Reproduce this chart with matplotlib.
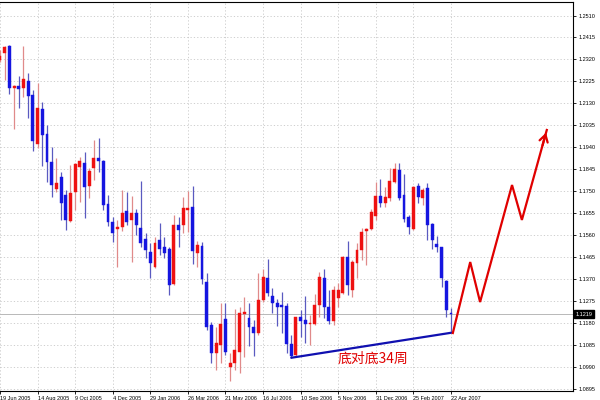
import matplotlib
matplotlib.use("Agg")
import matplotlib.pyplot as plt
import matplotlib.transforms as mtransforms
import numpy as np

# ---- weekly OHLC (bar index 0 = week of 19 Jun 2005) ----
opens = [1.2318, 1.2348, 1.2378, 1.2196, 1.2205, 1.2196, 1.2227, 1.2166, 1.1954, 1.2106,
         1.1998, 1.1877, 1.1760, 1.1812, 1.1734, 1.1622, 1.1747, 1.1855, 1.1872, 1.1773,
         1.1851, 1.1894, 1.1881, 1.1696, 1.1618, 1.1588, 1.1596, 1.1665, 1.1627, 1.1657,
         1.1592, 1.1544, 1.1488, 1.1424, 1.1540, 1.1510, 1.1501, 1.1350, 1.1605, 1.1605,
         1.1670, 1.1683, 1.1484, 1.1514, 1.1359, 1.1173, 1.1052, 1.1087, 1.1199, 1.0991,
         1.1009, 1.1056, 1.1220, 1.1203, 1.1164, 1.1138, 1.1281, 1.1376, 1.1298, 1.1268,
         1.1259, 1.1255, 1.1091, 1.1043, 1.1207, 1.1195, 1.1177, 1.1177, 1.1259, 1.1376,
         1.1251, 1.1190, 1.1290, 1.1311, 1.1467, 1.1324, 1.1441, 1.1497, 1.1579, 1.1588,
         1.1644, 1.1730, 1.1700, 1.1721, 1.1790, 1.1842, 1.1734, 1.1640, 1.1588, 1.1773,
         1.1721, 1.1764, 1.1609, 1.1523, 1.1510, 1.1363, 1.1225]
highs = [1.2361, 1.2378, 1.2382, 1.2209, 1.2248, 1.2378, 1.2261, 1.2188, 1.2218, 1.2136,
         1.2036, 1.1941, 1.1894, 1.1834, 1.1756, 1.1864, 1.1872, 1.1898, 1.1920, 1.1851,
         1.1972, 1.1980, 1.1885, 1.1734, 1.1640, 1.1627, 1.1756, 1.1747, 1.1730, 1.1674,
         1.1795, 1.1570, 1.1527, 1.1553, 1.1614, 1.1553, 1.1510, 1.1648, 1.1640, 1.1726,
         1.1752, 1.1773, 1.1536, 1.1531, 1.1398, 1.1186, 1.1164, 1.1268, 1.1268, 1.1052,
         1.1242, 1.1251, 1.1294, 1.1268, 1.1195, 1.1398, 1.1415, 1.1458, 1.1333, 1.1285,
         1.1316, 1.1268, 1.1130, 1.1207, 1.1238, 1.1298, 1.1216, 1.1307, 1.1402, 1.1415,
         1.1324, 1.1341, 1.1354, 1.1471, 1.1536, 1.1454, 1.1527, 1.1592, 1.1592, 1.1674,
         1.1790, 1.1804, 1.1769, 1.1851, 1.1872, 1.1872, 1.1825, 1.1648, 1.1773, 1.1786,
         1.1764, 1.1786, 1.1614, 1.1557, 1.1510, 1.1367, 1.1246]
lows = [1.2309, 1.2231, 1.2171, 1.2019, 1.2110, 1.2158, 1.2067, 1.1925, 1.1937, 1.1859,
        1.1790, 1.1726, 1.1747, 1.1627, 1.1583, 1.1618, 1.1670, 1.1704, 1.1635, 1.1721,
        1.1799, 1.1834, 1.1670, 1.1601, 1.1531, 1.1424, 1.1579, 1.1605, 1.1445, 1.1562,
        1.1510, 1.1462, 1.1376, 1.1419, 1.1475, 1.1462, 1.1303, 1.1346, 1.1510, 1.1570,
        1.1575, 1.1437, 1.1424, 1.1350, 1.1151, 1.1009, 1.0979, 1.1009, 1.1043, 1.0931,
        1.0979, 1.0966, 1.1035, 1.1082, 1.1039, 1.1130, 1.1272, 1.1298, 1.1225, 1.1169,
        1.1138, 1.1052, 1.1030, 1.1039, 1.1121, 1.1095, 1.1087, 1.1173, 1.1207, 1.1203,
        1.1177, 1.1173, 1.1251, 1.1307, 1.1303, 1.1294, 1.1376, 1.1454, 1.1432, 1.1583,
        1.1627, 1.1683, 1.1683, 1.1708, 1.1786, 1.1713, 1.1618, 1.1566, 1.1583, 1.1700,
        1.1691, 1.1540, 1.1501, 1.1488, 1.1337, 1.1207, 1.1138]
closes = [1.2335, 1.2374, 1.2196, 1.2205, 1.2192, 1.2235, 1.2162, 1.1967, 1.2110, 1.1993,
          1.1877, 1.1777, 1.1786, 1.1700, 1.1627, 1.1743, 1.1868, 1.1881, 1.1769, 1.1838,
          1.1894, 1.1881, 1.1691, 1.1618, 1.1570, 1.1596, 1.1657, 1.1618, 1.1657, 1.1605,
          1.1527, 1.1497, 1.1441, 1.1527, 1.1501, 1.1484, 1.1346, 1.1605, 1.1583, 1.1678,
          1.1678, 1.1493, 1.1519, 1.1372, 1.1164, 1.1052, 1.1095, 1.1177, 1.1056, 1.1009,
          1.1065, 1.1225, 1.1229, 1.1164, 1.1138, 1.1281, 1.1380, 1.1311, 1.1268, 1.1251,
          1.1251, 1.1091, 1.1039, 1.1207, 1.1190, 1.1177, 1.1182, 1.1259, 1.1380, 1.1251,
          1.1190, 1.1324, 1.1324, 1.1467, 1.1346, 1.1445, 1.1497, 1.1575, 1.1588, 1.1661,
          1.1730, 1.1700, 1.1726, 1.1795, 1.1847, 1.1721, 1.1631, 1.1596, 1.1769, 1.1726,
          1.1756, 1.1605, 1.1540, 1.1510, 1.1376, 1.1238, 1.1219]

date_labels = ["19 Jun 2005", "14 Aug 2005", "9 Oct 2005", "4 Dec 2005", "29 Jan 2006",
               "26 Mar 2006", "21 May 2006", "16 Jul 2006", "10 Sep 2006", "5 Nov 2006",
               "31 Dec 2006", "25 Feb 2007", "22 Apr 2007"]
date_label_bars = [0, 8, 16, 24, 32, 40, 48, 56, 64, 72, 80, 88, 96]

price_ticks = [1.2510, 1.2415, 1.2320, 1.2225, 1.2130, 1.2035, 1.1940, 1.1845, 1.1750,
               1.1655, 1.1560, 1.1465, 1.1370, 1.1275, 1.1180, 1.1085, 1.0990, 1.0895]
last_price = 1.1219

# trend line between the two lows (34 weeks apart)
trend_bars = [62, 96]
trend_prices = [1.1030, 1.1138]
trend_text = "底对底34周"

# projected zig-zag path
proj_bars = [96.4, 100.1, 102.2, 109.0, 111.1, 116.4]
proj_prices = [1.1137, 1.1444, 1.1271, 1.1777, 1.1626, 1.2015]

# ---- figure ----
fig = plt.figure(figsize=(6, 4), dpi=100)
fig.patch.set_facecolor("white")
ax = fig.add_axes([0.0, 9 / 400, 573 / 600, 389 / 400])
ax.set_xlim(0.064, 121.98)
ax.set_ylim(1.08863, 1.25684)

RED = "#ee1111"
BLUE = "#1515e0"
RED_W = "#e08a8a"
BLUE_W = "#5a5ac0"

n = len(opens)
x = np.arange(n)
bw = 0.62
for i in range(n):
    o, h, l, c = opens[i], highs[i], lows[i], closes[i]
    up = c >= o
    col = RED if up else BLUE
    wcol = RED_W if up else BLUE_W
    ax.vlines(x[i], l, h, color=wcol, lw=0.9, zorder=3)
    bot = min(o, c)
    height = max(abs(c - o), 0.00045)
    ax.bar(x[i], height, bw, bottom=bot, color=col, edgecolor=col, lw=0.3, zorder=4)

# grid
for p in price_ticks:
    ax.axhline(p, color="#c8c8c8", lw=0.6, ls=(0, (1.5, 2.5)), zorder=1)
for b in date_label_bars:
    ax.axvline(b, color="#c8c8c8", lw=0.6, ls=(0, (1.5, 2.5)), zorder=1)

# bid line
ax.axhline(last_price, color="#b8b8b8", lw=0.7, zorder=2)

# trend line & projection
ax.plot(trend_bars, trend_prices, color="#1010b0", lw=1.6, zorder=5, solid_capstyle="round")
ax.plot(proj_bars, proj_prices, color="#e00000", lw=1.6, zorder=5, solid_joinstyle="miter")
ax.annotate("", xy=(proj_bars[-1], proj_prices[-1]),
            xytext=(proj_bars[-2] + 0.8 * (proj_bars[-1] - proj_bars[-2]),
                    proj_prices[-2] + 0.8 * (proj_prices[-1] - proj_prices[-2])),
            arrowprops=dict(arrowstyle="->,head_length=0.5,head_width=0.3", color="#e00000", lw=1.6),
            zorder=6)
ax.text(np.mean(trend_bars) + 0.3, trend_prices[0] - 0.0005, trend_text,
        fontsize=10, color="#e00000", family=["Noto Sans CJK SC", "DejaVu Sans"],
        ha="center", va="center", zorder=6)

# axes styling
for s in ["left", "top", "right", "bottom"]:
    ax.spines[s].set_color("#000000")
    ax.spines[s].set_linewidth(0.8)
ax.spines["left"].set_visible(False)

ax.yaxis.tick_right()
ax.set_yticks(price_ticks)
ax.set_yticklabels([f"{p:.4f}" for p in price_ticks], fontsize=4, family="Liberation Sans")
ax.tick_params(axis="y", length=2.5, width=0.6, pad=1.5, color="#000000")

ax.set_xticks(date_label_bars)
ax.set_xticklabels(date_labels, fontsize=4, family="Liberation Sans")
for lbl in ax.get_xticklabels():
    lbl.set_horizontalalignment("left")
ax.tick_params(axis="x", length=2.5, width=0.6, pad=1.0, color="#000000")

# last price box
trans = mtransforms.blended_transform_factory(ax.transAxes, ax.transData)
ax.text(1.0 + 2.5 / 573, last_price, f"{last_price:.4f}", transform=trans,
        fontsize=4, family="Liberation Sans", color="white", ha="left", va="center",
        bbox=dict(boxstyle="square,pad=0.25", facecolor="black", edgecolor="black"),
        zorder=10, clip_on=False)

fig.savefig("out.png", dpi=100, facecolor="white")
